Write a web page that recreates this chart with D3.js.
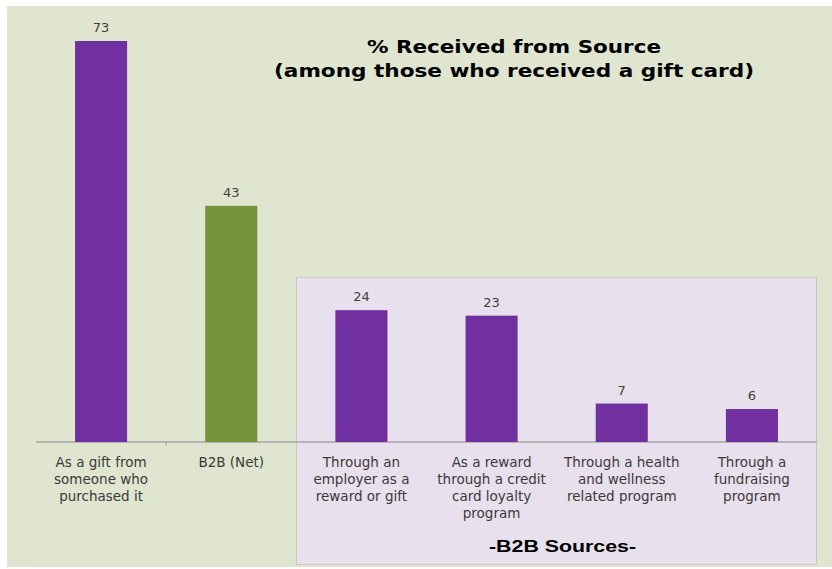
<!DOCTYPE html>
<html>
<head>
<meta charset="utf-8">
<script src="https://cdn.jsdelivr.net/npm/d3@7"></script>
<style>
  html, body { margin: 0; padding: 0; background: #ffffff; }
  svg { display: block; }
</style>
</head>
<body>
<svg id="chart" width="832" height="569"></svg>
<script>
// ---- data ----
const categories = [
  ["As a gift from", "someone who", "purchased it"],
  ["B2B (Net)"],
  ["Through an", "employer as a", "reward or gift"],
  ["As a reward", "through a credit", "card loyalty", "program"],
  ["Through a health", "and wellness", "related program"],
  ["Through a", "fundraising", "program"]
];
const values = [73, 43, 24, 23, 7, 6];
const barColors = ["#7030a0", "#77933c", "#7030a0", "#7030a0", "#7030a0", "#7030a0"];
const titleLines = ["% Received from Source", "(among those who received a gift card)"];
const groupLabel = "-B2B Sources-";

// ---- layout ----
const svg = d3.select("#chart");
const baseline = 442;
const x = d3.scaleBand().domain(d3.range(values.length)).range([36, 817])
  .paddingInner(0.6).paddingOuter(0.3);
const y = d3.scaleLinear().domain([0, 73]).range([baseline, 41]);

// background
svg.append("rect").attr("x", 7).attr("y", 6).attr("width", 825).attr("height", 561)
  .attr("fill", "#dfe5cf");

// B2B group box (spanning categories 2..5)
const boxLeft = Math.round(x(2) - x.step() * x.paddingInner() / 2) + 0.5;
const boxRight = 816.5;
svg.append("rect").attr("x", boxLeft).attr("y", 277.5)
  .attr("width", boxRight - boxLeft).attr("height", 287)
  .attr("fill", "#e8e0ec").attr("stroke", "#c9c9c4").attr("stroke-width", 1);

// axis
const axisG = svg.append("g").attr("transform", `translate(0,${baseline})`);
axisG.append("line").attr("x1", 36).attr("x2", 817).attr("y1", 0).attr("y2", 0)
  .attr("stroke", "#a6a6a6").attr("stroke-width", 1.5);
axisG.append("line").attr("x1", x(1) - x.step() * 0.3).attr("x2", x(1) - x.step() * 0.3)
  .attr("y1", 0).attr("y2", 4).attr("stroke", "#a6a6a6");

// bars
svg.selectAll("rect.bar").data(values).join("rect").attr("class", "bar")
  .attr("x", (d, i) => x(i)).attr("width", x.bandwidth())
  .attr("y", d => y(d)).attr("height", d => baseline - y(d))
  .attr("fill", (d, i) => barColors[i]);

// value labels
svg.selectAll("text.val").data(values).join("text").attr("class", "val")
  .attr("x", (d, i) => x(i) + x.bandwidth() / 2)
  .attr("y", d => y(d) - 9)
  .attr("text-anchor", "middle")
  .attr("font-family", "DejaVu Sans, Verdana, sans-serif")
  .attr("font-size", 13).attr("fill", "#404040")
  .text(d => d);

// category labels
categories.forEach((lines, i) => {
  const t = svg.append("text")
    .attr("x", x(i) + x.bandwidth() / 2).attr("y", 466.5)
    .attr("text-anchor", "middle")
    .attr("font-family", "DejaVu Sans, Verdana, sans-serif")
    .attr("font-size", 13.5).attr("fill", "#3a3a3a");
  lines.forEach((l, j) => {
    t.append("tspan").attr("x", x(i) + x.bandwidth() / 2).attr("dy", j === 0 ? 0 : 17).text(l);
  });
});

// title
const titleWidths = [294, 480];
titleLines.forEach((l, j) => {
  svg.append("text").attr("x", 514).attr("y", 53 + j * 24)
    .attr("text-anchor", "middle")
    .attr("font-family", "DejaVu Sans, Verdana, sans-serif")
    .attr("font-weight", "bold").attr("font-size", 18).attr("fill", "#000")
    .attr("textLength", titleWidths[j]).attr("lengthAdjust", "spacingAndGlyphs")
    .text(l);
});

// group label
svg.append("text").attr("x", 562.5).attr("y", 552)
  .attr("text-anchor", "middle")
  .attr("font-family", "Liberation Sans, Arial, sans-serif")
  .attr("font-weight", "bold").attr("font-size", 16).attr("fill", "#000")
  .attr("textLength", 147).attr("lengthAdjust", "spacingAndGlyphs")
  .text(groupLabel);
</script>
</body>
</html>
